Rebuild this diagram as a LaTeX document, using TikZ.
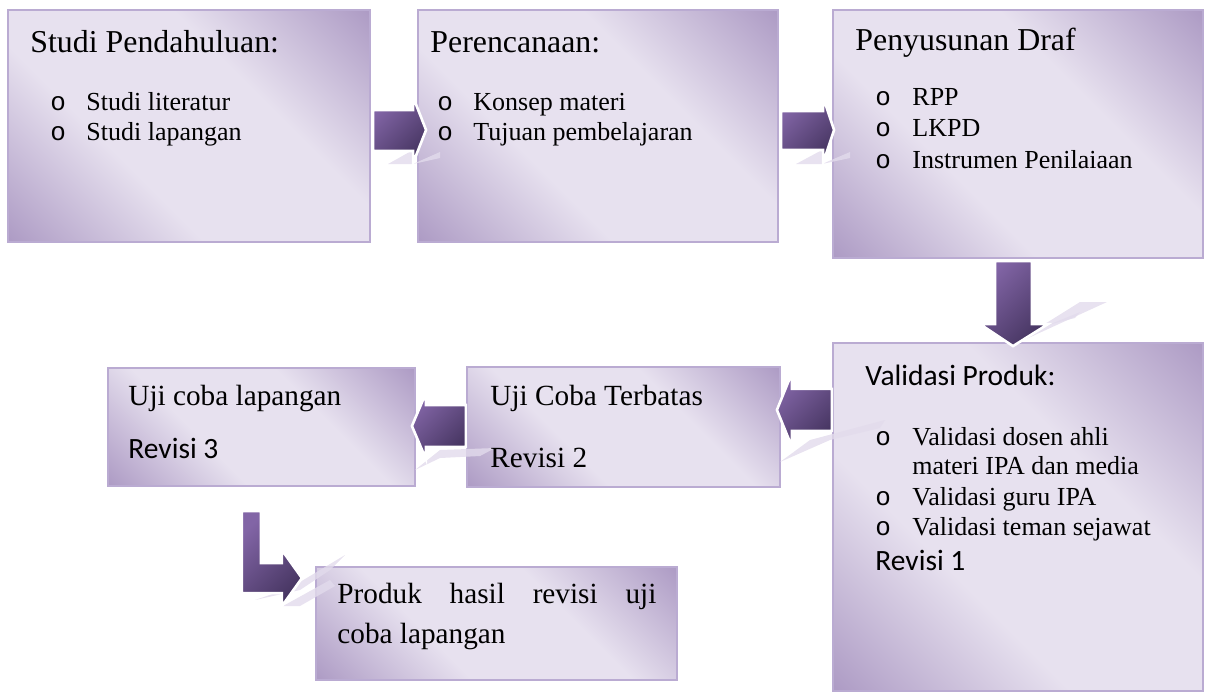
\documentclass[tikz,border=0pt]{standalone}
\usepackage{fontspec}
\setmainfont{Liberation Serif}
\setmonofont{Liberation Mono}
\newfontfamily\calibri{Carlito}
\usetikzlibrary{calc}

\definecolor{boxdark}{RGB}{174,156,197}
\definecolor{boxlight}{RGB}{231,225,239}
\definecolor{boxline}{RGB}{186,171,210}
\definecolor{arrlight}{RGB}{130,101,166}
\definecolor{arrdark}{RGB}{70,53,97}
\definecolor{reflcol}{RGB}{226,219,236}

\pgfdeclareverticalshading{boxshade}{100bp}{color(0bp)=(boxdark); color(15bp)=(boxdark);
	color(38bp)=(boxlight); color(62bp)=(boxlight); color(85bp)=(boxdark); color(100bp)=(boxdark)}

\newcommand{\px}{0.4615pt}
\newcommand{\bul}{{\ttfamily o}}

\tikzset{
	box/.style={rectangle, draw=boxline, line width=1pt, inner sep=0pt,
		shade, shading=boxshade, shading angle=-45},
	barrow/.style={draw=white, line width=1.2pt, line join=miter,
		top color=arrlight, bottom color=arrdark, shading angle=45},
	refl/.style={fill=reflcol, draw=none, opacity=0.8},
	ttl/.style={anchor=base west, inner sep=0pt, font=\fontsize{14.7}{17}\selectfont},
	itm/.style={anchor=base west, inner sep=0pt, font=\fontsize{12}{14}\selectfont},
	big/.style={anchor=base west, inner sep=0pt, font=\fontsize{13.5}{16}\selectfont},
	cal/.style={anchor=base west, inner sep=0pt, font=\calibri\fontsize{13.6}{16}\selectfont}
}

\begin{document}
\begin{tikzpicture}[x=0.4615pt, y=-0.4615pt]
		%%%%% START %%%%%
		\useasboundingbox (0,0) rectangle (1210,692);
		
		% boxes
		\node[box, minimum width=362*\px, minimum height=232*\px] (studi) at (189,126) {};
		\node[box, minimum width=360*\px, minimum height=232*\px] (rencana) at (598,126) {};
		\node[box, minimum width=370*\px, minimum height=248*\px] (draf) at (1018,134) {};
		\node[box, minimum width=370*\px, minimum height=348*\px] (validasi) at (1018,517) {};
		\node[box, minimum width=313*\px, minimum height=120*\px] (terbatas) at (623.5,427) {};
		\node[box, minimum width=307*\px, minimum height=118*\px] (lapangan) at (261.5,427) {};
		\node[box, minimum width=361*\px, minimum height=113*\px] (produk) at (496.5,623.5) {};
		
		% reflections
		\fill[refl] (388,164) -- (413,150) -- (413,164) -- cycle;
		\fill[refl] (413,164) -- (440,152) -- (440,158) -- cycle;
		\fill[refl] (796,164) -- (822,150) -- (822,164) -- cycle;
		\fill[refl] (822,164) -- (850,152) -- (850,158) -- cycle;
		\fill[refl] (1013,345) -- (1107,302) -- (1080,302) -- (1048,322) -- (1032,330) -- cycle;
		\fill[refl] (1048,325) -- (1080,312) -- (1075,318) -- cycle;
		\fill[refl] (780,462) -- (810,440) -- (885,420) -- (880,428) -- (830,440) -- cycle;
		\fill[refl] (415,470) -- (440,450) -- (495,448) -- (480,456) -- (440,458) -- cycle;
		\fill[refl] (255,600) -- (290,588) -- (345,555) -- (330,570) -- (300,590) -- cycle;
		\fill[refl] (283,606) -- (330,580) -- (335,586) -- (300,606) -- cycle;
		
		% block arrows
		\draw[barrow] ($(studi.east)+(2,-16)$) -- ++(40,0) -- ++(0,-13) -- ++(13,33)
			-- ++(-13,33) -- ++(0,-12) -- ++(-40,0) -- cycle;
		\draw[barrow] ($(rencana.east)+(2,-15)$) -- ++(42,0) -- ++(0,-14) -- ++(11,33)
			-- ++(-11,33) -- ++(0,-13) -- ++(-42,0) -- cycle;
		\draw[barrow] ($(draf.south)+(-23,2)$) -- ++(0,63) -- ++(-15,0) -- ++(33,22)
			-- ++(35,-22) -- ++(-16,0) -- ++(0,-63) -- cycle;
		\draw[barrow] ($(validasi.north west)+(0,47)$) -- ++(-40,0) -- ++(0,-16) -- ++(-15,37)
			-- ++(15,37) -- ++(0,-16) -- ++(40,0) -- cycle;
		\draw[barrow] ($(terbatas.west)+(0,-22)$) -- ++(-40,0) -- ++(0,-12) -- ++(-14,33)
			-- ++(14,33) -- ++(0,-12) -- ++(40,0) -- cycle;
		\draw[barrow] ($(lapangan.south west)+(135,24)$) -- ++(0,82) -- ++(40,0) -- ++(0,13)
			-- ++(20,-28) -- ++(-20,-28) -- ++(0,13) -- ++(-21,0) -- ++(0,-52) -- cycle;
		
		% texts
		\node[ttl] (t1) at (30,52) {Studi Pendahuluan:};
		\node[itm] (b11) at (50,110) {\bul};
		\node[itm] (i11) at (86,110) {Studi literatur};
		\node[itm] (b12) at (50,140) {\bul};
		\node[itm] (i12) at (86,140) {Studi lapangan};
		
		\node[ttl] (t2) at (430,52) {Perencanaan:};
		\node[itm] (b21) at (437,110) {\bul};
		\node[itm] (i21) at (473,110) {Konsep materi};
		\node[itm] (b22) at (437,140) {\bul};
		\node[itm] (i22) at (473,140) {Tujuan pembelajaran};
		
		\node[ttl] (t3) at (855,50) {Penyusunan Draf};
		\node[itm] (b31) at (875,105) {\bul};
		\node[itm] (i31) at (912,105) {RPP};
		\node[itm] (b32) at (875,136) {\bul};
		\node[itm] (i32) at (912,136) {LKPD};
		\node[itm] (b33) at (875,168) {\bul};
		\node[itm] (i33) at (912,168) {Instrumen Penilaiaan};
		
		\node[cal] (t4) at (865,385) {Validasi Produk:};
		\node[itm] (b41) at (875,445) {\bul};
		\node[itm] (i41) at (912,445) {Validasi dosen ahli};
		\node[itm] (i42) at (912,474) {materi IPA dan media};
		\node[itm] (b43) at (875,505) {\bul};
		\node[itm] (i43) at (912,505) {Validasi guru IPA};
		\node[itm] (b44) at (875,535) {\bul};
		\node[itm] (i44) at (912,535) {Validasi teman sejawat};
		\node[cal] (r1) at (875,570) {Revisi 1};
		
		\node[big] (t5) at (490,405) {Uji Coba Terbatas};
		\node[big] (r2) at (490,467) {Revisi 2};
		
		\node[big] (t6) at (128,405) {Uji coba lapangan};
		\node[cal] (r3) at (128,458) {Revisi 3};
		
		\node[big] (t7) at (337,603) {\makebox[147.2pt][s]{Produk hasil revisi uji}};
		\node[big] (t8) at (337,643) {coba lapangan};
		
		%%%%% END %%%%%
	\end{tikzpicture}
\end{document}
